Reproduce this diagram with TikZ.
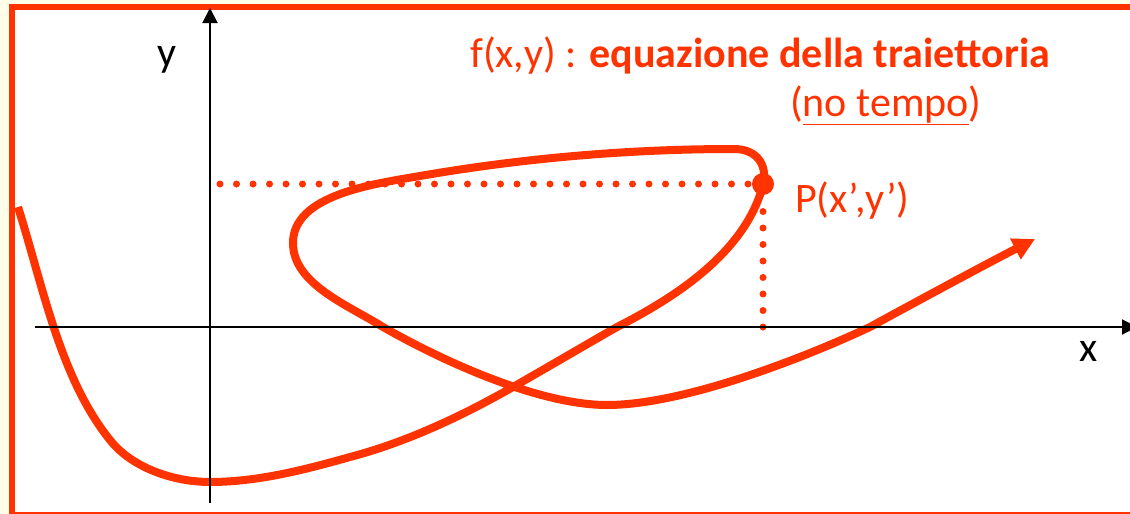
\documentclass[tikz,border=0pt]{standalone}
\usepackage{fontspec}
\setmainfont{Carlito}
\usetikzlibrary{arrows.meta}
\definecolor{traj}{RGB}{255,51,0}
\definecolor{paper}{RGB}{255,254,232}
\tikzset{
  axis/.style={line width=2pt,-{Triangle[length=15pt,width=15pt]}},
  trajline/.style={traj,line width=8pt,-{Triangle[length=22pt,width=22pt]}},
  proj/.style={traj,line width=7pt,line cap=round,dash pattern=on 0pt off 16.5pt},
  lbl/.style={inner sep=0pt,anchor=base west,font=\fontsize{42}{50}\selectfont},
}

\begin{document}
\begin{tikzpicture}[x=1pt,y=-1pt]
        \path[use as bounding box,clip](0, 0) rectangle (1130, 514);
        \fill[paper](0, 0) rectangle (1130, 514);
        \filldraw[draw=traj,fill=white,line width=6pt](12, 6.5) rectangle (1145, 515);
        % axes and the point
        \coordinate (xstart) at (35, 327);
        \coordinate (xend) at (1137, 327);
        \coordinate (ystart) at (210, 503);
        \coordinate (yend) at (210, 8);
        \coordinate (P) at (763, 184);
        \coordinate (Py) at (220, 184);
        \coordinate (Px) at (763, 327);
        \coordinate (Ptop) at (763, 195);
        \draw[proj](Py) -- (P);
        \draw[proj](Px) -- (Ptop);
        % trajectory
        \draw[trajline](18, 207) .. controls (43, 286) and (60, 378) .. (110, 440) .. controls (132, 468) and (174, 482) .. (210, 482) .. controls (257, 482) and (304, 470) .. (350, 457) .. controls (407, 442) and (462, 416) .. (513, 387) .. controls (548, 367) and (582, 347) .. (617, 327) .. controls (680, 295) and (746, 250) .. (763, 185) .. controls (768, 164) and (756, 149) .. (734, 149) .. controls (627, 149) and (521, 158.5) .. (420, 176) .. controls (373, 184) and (293, 195) .. (293, 243) .. controls (293, 284) and (348, 305) .. (383, 327) .. controls (455, 368) and (545, 405) .. (607, 405) .. controls (680, 405) and (795, 362) .. (870, 327) .. controls (910, 305) and (990, 262) .. (1035, 239);
        \draw[axis](xstart) -- (xend);
        \draw[axis](ystart) -- (yend);
        \fill[traj](P) circle[radius=11];
        \node[lbl] (ylab) at (157, 66) {y};
        \node[lbl] (xlab) at (1079, 361) {x};
        \node[lbl,traj] (eqlab) at (470, 67) {f(x,y) : \textbf{equazione della traiettoria}};
        \node[lbl,traj] (notime) at (790, 116) {(\underline{no tempo})};
        \node[lbl,traj] (plab) at (795, 212) {P(x’,y’)};
    \end{tikzpicture}
\end{document}
